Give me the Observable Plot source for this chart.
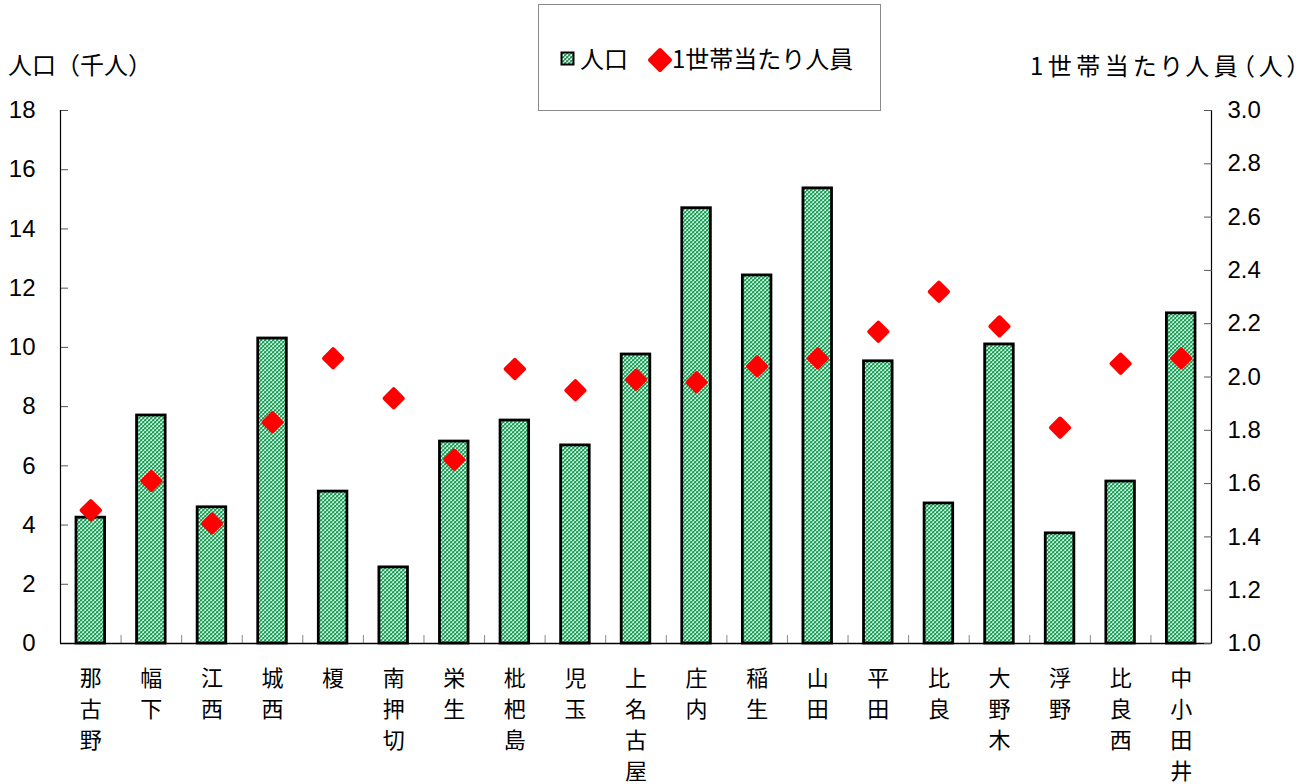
<!DOCTYPE html>
<html><head><meta charset="utf-8">
<script src="https://cdn.jsdelivr.net/npm/d3@7"></script>
<script src="https://cdn.jsdelivr.net/npm/@observablehq/plot@0.6"></script>
<style>
html,body{margin:0;padding:0;background:#fff;overflow:hidden;}
#wrap{position:relative;width:1313px;height:784px;font-family:"Noto Sans CJK JP",sans-serif;}
#wrap svg.chart{position:absolute;left:0;top:0;}
.t{position:absolute;font-size:24px;color:#000;white-space:nowrap;line-height:1;}
#legend{position:absolute;left:538px;top:4px;width:343px;height:107px;border:1.5px solid #8a8a8a;box-sizing:border-box;background:#fff;z-index:3;}
#legend .t{font-size:24px;}
</style></head><body>
<svg width="0" height="0" style="position:absolute">
  <defs>
    <pattern id="chk" width="4" height="4" patternUnits="userSpaceOnUse">
      <rect x="0" y="0" width="4" height="4" fill="#a9ebc7"/>
      <rect x="0" y="0" width="2" height="1" fill="#239a5a"/>
      <rect x="3" y="1" width="1" height="1" fill="#239a5a"/>
      <rect x="2" y="2" width="2" height="1" fill="#239a5a"/>
      <rect x="1" y="3" width="1" height="1" fill="#239a5a"/>
      <rect x="0" y="1" width="1" height="1" fill="#5fc48e"/>
      <rect x="2" y="3" width="1" height="1" fill="#5fc48e"/>
      <rect x="3" y="0" width="1" height="1" fill="#ecfff4"/>
      <rect x="1" y="2" width="1" height="1" fill="#ecfff4"/>
      <rect x="2" y="1" width="1" height="1" fill="#7fa08c"/>
      <rect x="0" y="3" width="1" height="1" fill="#7fa08c"/>
    </pattern>
  </defs>
</svg>
<div id="wrap">
  <div class="t" style="left:8px;top:52px">人口（千人）</div>
  <div class="t" style="left:1030px;top:53px;letter-spacing:4.5px;font-feature-settings:'palt'">1世帯当たり人員（人）</div>
  <div id="legend">
    <svg style="position:absolute;left:21px;top:46px" width="16" height="16"><rect x="1.5" y="1.5" width="12" height="12" fill="url(#chk)" stroke="#000" stroke-width="2"/></svg>
    <div class="t" style="left:41px;top:41px">人口</div>
    <svg style="position:absolute;left:108px;top:42px" width="26" height="26"><path d="M13,3 L23,13 L13,23 L3,13 Z" fill="#ff0000" stroke="#ff0000" stroke-width="4" stroke-linejoin="round"/></svg>
    <div class="t" style="left:133px;top:41px">1世帯当たり人員</div>
  </div>
</div>
<script>
const areas = ["那古野","幅下","江西","城西","榎","南押切","栄生","枇杷島","児玉","上名古屋","庄内","稲生","山田","平田","比良","大野木","浮野","比良西","中小田井"];
const population = [4.25,7.7,4.6,10.3,5.13,2.57,6.82,7.53,6.69,9.76,14.7,12.43,15.37,9.53,4.73,10.1,3.72,5.47,11.15];
const perHousehold = [1.50,1.61,1.45,1.83,2.07,1.92,1.69,2.03,1.95,1.99,1.98,2.04,2.07,2.17,2.32,2.19,1.81,2.05,2.07];
const leftTicks = [0,2,4,6,8,10,12,14,16,18];
const rightTicks = [1.0,1.2,1.4,1.6,1.8,2.0,2.2,2.4,2.6,2.8,3.0];

const data = areas.map((a, i) => ({a, i, pop: population[i], ph: perHousehold[i]}));
const common = {
  width: 1313, height: 784,
  marginTop: 110, marginBottom: 141, marginLeft: 60, marginRight: 102,
  x: {domain: [0, areas.length], axis: null, label: null}
};
const style = {fontFamily: "'Liberation Sans', 'Noto Sans CJK JP', sans-serif", fontSize: "24px", background: "transparent", color: "#000", overflow: "visible"};

const p1 = Plot.plot({
  ...common,
  style,
  y: {domain: [0, 18], axis: null, label: null},
  marks: [
    Plot.rectY(data, {x1: "i", x2: d => d.i + 1, y: "pop", insetLeft: 16, insetRight: 16, fill: "url(#chk)", stroke: "#000", strokeWidth: 2.8}),
    Plot.axisY({ticks: leftTicks, label: null, tickSize: -8, tickPadding: 33, tickFormat: d3.format("d"), stroke: "#555", fill: "#000", fontSize: 24}),
    Plot.axisX({ticks: d3.range(1, areas.length), label: null, tickSize: -8, tickFormat: () => "", stroke: "#888"}),
    Plot.ruleY([0], {stroke: "#000", strokeWidth: 1.5}),
    Plot.ruleX([0, areas.length], {stroke: "#000", strokeWidth: 1.2}),
    Plot.text(data, {x: d => d.i + 0.5, text: d => d.a.split("").join("\n"), frameAnchor: "bottom", lineAnchor: "top", dy: 21, fontSize: 22, lineHeight: 1.4, fontFamily: "'Noto Sans CJK JP', sans-serif", fill: "#000"})
  ]
});
p1.classList.add("chart");

const p2 = Plot.plot({
  ...common,
  style,
  y: {domain: [1, 3], axis: null, label: null},
  marks: [
    Plot.axisY({anchor: "right", label: null, ticks: rightTicks, tickSize: -8, tickPadding: 24, tickFormat: d3.format(".1f"), stroke: "#555", fill: "#000", fontSize: 24}),
    Plot.dot(data, {x: d => d.i + 0.5, y: "ph", symbol: "diamond2", r: 8.2, fill: "#ff0000", stroke: "#ff0000", strokeWidth: 4, strokeLinejoin: "round"})
  ]
});
p2.classList.add("chart");

const wrap = document.getElementById("wrap");
wrap.appendChild(p1);
wrap.appendChild(p2);
</script>
</body></html>
